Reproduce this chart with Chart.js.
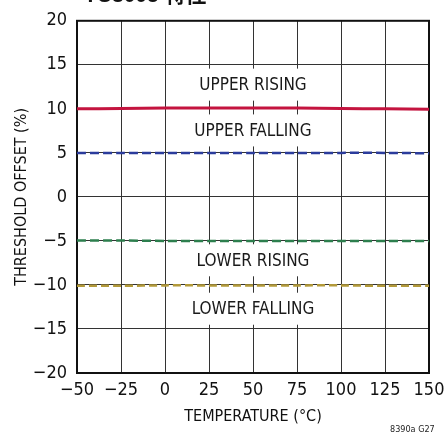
<!DOCTYPE html>
<html>
<head>
<meta charset="utf-8">
<script src="https://cdn.jsdelivr.net/npm/chart.js@4"></script>
<style>
    body { margin: 0; background: #fff; }
    #wrap { position: relative; width: 446px; height: 440px; overflow: hidden; }
    #topTitle {
        position: absolute; top: -22px; left: 84px;
        font: bold 21px "Liberation Sans", "Noto Sans CJK SC", sans-serif; color: #111;
    }
    #figId {
        position: absolute; top: 424px; left: 390px;
        font: 9px "DejaVu Sans Condensed", sans-serif; color: #222;
    }
</style>
</head>
<body>
<div id="wrap">
    <canvas id="chart" width="446" height="440"></canvas>
    <div id="topTitle">TC3005 特性</div>
    <div id="figId">8390a G27</div>
</div>
<script>
// Chart data
const temps = [-50, -25, 0, 25, 50, 75, 100, 125, 150];
const upperRising = [10.0, 10.05, 10.1, 10.1, 10.1, 10.1, 10.05, 10.0, 9.95];
const upperFalling = [5.0, 5.0, 5.0, 5.0, 5.0, 5.0, 5.0, 5.0, 4.95];
const lowerRising = [-4.95, -4.95, -5.0, -5.0, -5.0, -5.0, -5.0, -5.0, -5.0];
const lowerFalling = [-10.1, -10.1, -10.05, -10.05, -10.05, -10.05, -10.05, -10.1, -10.1];

const xTicks = [-50, -25, 0, 25, 50, 75, 100, 125, 150];
const yTicks = [-20, -15, -10, -5, 0, 5, 10, 15, 20];

// Curve labels: [text, x, y] in data units
const curveLabels = [
    ['UPPER RISING', 50, 12.75],
    ['UPPER FALLING', 50, 7.55],
    ['LOWER RISING', 50, -7.2],
    ['LOWER FALLING', 50, -12.7]
];

const yTitle = 'THRESHOLD OFFSET (%)';

const FONT = '"DejaVu Sans Condensed", sans-serif';

function points(ys) {
    return temps.map((t, i) => ({ x: t, y: ys[i] }));
}

function minus(v) {
    return String(v).replace('-', '\u2212');
}

// Frame, curve label boxes and y title
const framePlugin = {
    id: 'frame',
    beforeDatasetsDraw(chart) {
        const ctx = chart.ctx;
        const a = chart.chartArea;
        const xs = chart.scales.x;
        const ys = chart.scales.y;

        ctx.save();
        ctx.font = '17px ' + FONT;
        ctx.textAlign = 'center';
        ctx.textBaseline = 'middle';
        curveLabels.forEach(([text, x, y]) => {
            const px = xs.getPixelForValue(x);
            const py = ys.getPixelForValue(y);
            const w = ctx.measureText(text).width;
            ctx.fillStyle = '#fff';
            ctx.fillRect(px - w / 2 - 14, py - 16, w + 28, 32);
            ctx.fillStyle = '#1a1a1a';
            ctx.fillText(text, px, py + 1);
        });

        ctx.strokeStyle = '#111';
        ctx.lineWidth = 2;
        ctx.strokeRect(a.left, a.top, a.right - a.left, a.bottom - a.top);

        // rotated y axis title
        ctx.translate(22, (a.top + a.bottom) / 2);
        ctx.rotate(-Math.PI / 2);
        ctx.font = '16px ' + FONT;
        ctx.fillStyle = '#111';
        ctx.fillText(yTitle, 0, 0);
        ctx.restore();
    }
};

new Chart(document.getElementById('chart'), {
    type: 'line',
    data: {
        datasets: [
            {
                label: 'UPPER RISING',
                data: points(upperRising),
                borderColor: '#c4143f',
                borderWidth: 3
            },
            {
                label: 'UPPER FALLING',
                data: points(upperFalling),
                borderColor: '#2b3c9c',
                borderWidth: 2.5,
                borderDash: [9, 4]
            },
            {
                label: 'LOWER RISING',
                data: points(lowerRising),
                borderColor: '#2d7f4e',
                borderWidth: 2.5,
                borderDash: [9, 4]
            },
            {
                label: 'LOWER FALLING',
                data: points(lowerFalling),
                borderColor: '#b39a3a',
                borderWidth: 2.5,
                borderDash: [8, 4]
            }
        ]
    },
    options: {
        responsive: false,
        animation: false,
        layout: { padding: { top: 20, right: 17, left: 0, bottom: 0 } },
        elements: {
            point: { radius: 0 },
            line: { tension: 0.3, fill: false }
        },
        plugins: {
            legend: { display: false },
            tooltip: { enabled: false }
        },
        scales: {
            x: {
                type: 'linear',
                min: -50,
                max: 150,
                afterBuildTicks(scale) {
                    scale.ticks = xTicks.map(v => ({ value: v }));
                },
                afterFit(scale) {
                    scale.height = 67;
                    scale.paddingLeft = 0;
                    scale.paddingRight = 0;
                },
                grid: { color: '#333', lineWidth: 1, drawTicks: false },
                border: { display: false },
                ticks: {
                    padding: 7,
                    color: '#111',
                    font: { family: FONT, size: 18 },
                    callback: v => minus(v)
                },
                title: {
                    display: true,
                    text: 'TEMPERATURE (\u00b0C)',
                    color: '#111',
                    font: { family: FONT, size: 16 },
                    padding: { top: 0, bottom: 14 }
                }
            },
            y: {
                min: -20,
                max: 20,
                afterBuildTicks(scale) {
                    scale.ticks = yTicks.map(v => ({ value: v }));
                },
                afterFit(scale) {
                    scale.width = 77;
                },
                grid: { color: '#333', lineWidth: 1, drawTicks: false },
                border: { display: false },
                ticks: {
                    padding: 10,
                    color: '#111',
                    font: { family: FONT, size: 18 },
                    callback: v => minus(v)
                }
            }
        }
    },
    plugins: [framePlugin]
});
</script>
</body>
</html>
